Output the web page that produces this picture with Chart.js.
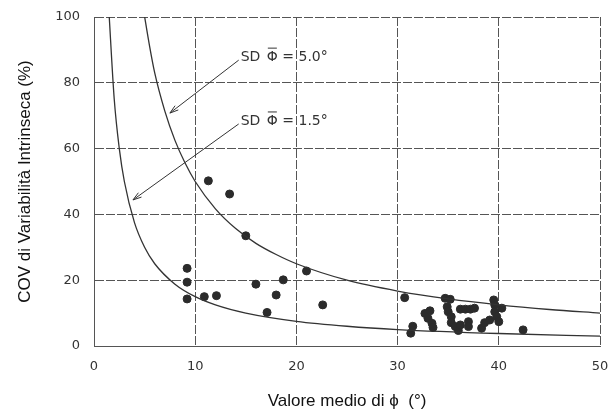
<!DOCTYPE html>
<html lang="it">
<head>
<meta charset="utf-8">
<title>COV di variabilità intrinseca</title>
<script src="https://cdn.jsdelivr.net/npm/chart.js@4/dist/chart.umd.min.js"></script>
<style>
  html, body { margin: 0; padding: 0; background: #fff; }
  #wrap { width: 612px; height: 416px; }
</style>
</head>
<body>
<div id="wrap"><canvas id="grafico" width="612" height="416"></canvas></div>
<script>
// --- Dati ---
const xTicks = [0, 10, 20, 30, 40, 50];
const yTicks = [0, 20, 40, 60, 80, 100];

// curva SD = 5.0°
const curva50X = [4.9, 5.5, 6, 7, 8, 9, 10, 12, 14, 16, 18, 20, 25, 30, 35, 40, 45, 50];
const curva50Y = [102, 91, 83, 71.4, 62.5, 55.6, 50, 41.7, 35.7, 31.2, 27.8, 25, 20, 16.7, 14.3, 12.5, 11.1, 10];

// curva SD = 1.5°
const curva15X = [1.45, 2, 2.5, 3, 4, 5, 6, 8, 10, 12, 15, 20, 25, 30, 40, 50];
const curva15Y = [103, 75, 60, 50, 37.5, 30, 25, 18.8, 15, 12.5, 10, 7.5, 6, 5, 3.8, 3];

// punti misurati
const puntiX = [9.2, 9.2, 9.2, 10.9, 12.1, 11.3, 13.4, 15.0, 16.0, 18.7, 18.0, 17.1, 21.0, 22.6,
  30.7, 31.5, 31.3, 32.7, 33.2, 33.0, 33.4, 33.5, 34.7, 35.2, 34.9, 35.0, 35.3, 35.3, 35.7, 36.0,
  36.2, 36.7, 37.2, 37.6, 37.0, 37.0, 36.2, 38.3, 38.6, 39.1, 39.5, 39.6, 39.6, 39.8, 40.3, 40.0, 42.4];
const puntiY = [23.6, 19.4, 14.3, 15.0, 15.3, 50.2, 46.2, 33.5, 18.8, 20.1, 15.5, 10.2, 22.8, 12.5,
  14.7, 6.0, 3.9, 9.9, 10.7, 8.4, 6.9, 5.6, 14.5, 14.2, 11.9, 10.4, 8.9, 7.1, 5.9, 4.7,
  11.2, 11.2, 11.2, 11.5, 7.4, 5.9, 6.4, 5.4, 7.1, 7.9, 14.0, 12.5, 10.4, 8.9, 11.5, 7.4, 4.9];

// etichette con freccia: [valore SD, xTesto, yTesto, xPunta, yPunta]
const etichette = [
  ["5.0", 14.3, 87.8, 7.5, 70.8],
  ["1.5", 14.3, 68.4, 3.85, 44.4],
];

const toXY = (xs, ys) => xs.map((x, i) => ({ x, y: ys[i] }));

const INK = "#333";

// frecce e testi "SD Φ̄ = ..." (la barra su Φ si disegna a mano)
const frecce = {
  id: "frecce",
  afterDatasetsDraw(chart) {
    const { ctx, scales } = chart;
    ctx.save();
    ctx.strokeStyle = INK;
    ctx.fillStyle = INK;
    ctx.lineWidth = 1;
    ctx.font = "14px 'DejaVu Sans'";
    ctx.textBaseline = "middle";
    etichette.forEach(([sd, xt, yt, xp, yp]) => {
      const x0 = scales.x.getPixelForValue(xt);
      const y0 = scales.y.getPixelForValue(yt);
      const x1 = scales.x.getPixelForValue(xp);
      const y1 = scales.y.getPixelForValue(yp);

      let cx = x0 + 2;
      ctx.fillText("SD ", cx, y0);
      cx += ctx.measureText("SD ").width + 2;
      const wPhi = ctx.measureText("\u03A6").width;
      ctx.fillText("\u03A6", cx, y0);
      ctx.beginPath();
      ctx.moveTo(cx + 1, y0 - 9);
      ctx.lineTo(cx + wPhi - 1, y0 - 9);
      ctx.stroke();
      cx += wPhi;
      ctx.fillText(" = " + sd + "\u00B0", cx, y0);

      const sx = x0, sy = y0 + 3;
      ctx.beginPath();
      ctx.moveTo(sx, sy);
      ctx.lineTo(x1, y1);
      ctx.stroke();
      const a = Math.atan2(y1 - sy, x1 - sx);
      ctx.beginPath();
      ctx.moveTo(x1, y1);
      ctx.lineTo(x1 - 9 * Math.cos(a - 0.3), y1 - 9 * Math.sin(a - 0.3));
      ctx.moveTo(x1, y1);
      ctx.lineTo(x1 - 9 * Math.cos(a + 0.3), y1 - 9 * Math.sin(a + 0.3));
      ctx.stroke();
    });
    ctx.restore();
  },
};

const linea = (dati) => ({
  type: "line",
  data: dati,
  borderColor: INK,
  borderWidth: 1.3,
  pointRadius: 0,
  fill: false,
  cubicInterpolationMode: "monotone",
});

const griglia = { color: "#555", lineWidth: 1, drawTicks: false };
const bordo = { color: "#555", dash: [9, 2] };

new Chart(document.getElementById("grafico"), {
  type: "scatter",
  data: {
    datasets: [
      linea(toXY(curva50X, curva50Y)),
      linea(toXY(curva15X, curva15Y)),
      {
        data: toXY(puntiX, puntiY),
        backgroundColor: "#2b2b2b",
        borderColor: "#2b2b2b",
        pointRadius: 4,
      },
    ],
  },
  options: {
    responsive: false,
    animation: false,
    layout: { padding: { top: 17, right: 12, left: 0, bottom: 0 } },
    plugins: { legend: { display: false }, tooltip: { enabled: false } },
    scales: {
      x: {
        type: "linear",
        min: 0,
        max: 50,
        afterBuildTicks: (s) => { s.ticks = xTicks.map((v) => ({ value: v })); },
        afterFit: (s) => { s.height = 70; s.paddingLeft = 0; s.paddingRight = 0; },
        grid: griglia,
        border: bordo,
        ticks: { color: INK, padding: 13, font: { family: "DejaVu Sans", size: 13 } },
        title: {
          display: true,
          text: "Valore medio di \u03D5  (\u00B0)",
          color: "#111",
          padding: { top: 10 },
          font: { family: "Liberation Sans", size: 17 },
        },
      },
      y: {
        type: "linear",
        min: 0,
        max: 100,
        afterBuildTicks: (s) => { s.ticks = yTicks.map((v) => ({ value: v })); },
        afterFit: (s) => { s.width = 94; s.paddingTop = 0; s.paddingBottom = 0; },
        grid: griglia,
        border: bordo,
        ticks: { color: INK, padding: 14, font: { family: "DejaVu Sans", size: 13 } },
        title: {
          display: true,
          text: "COV di Variabilità Intrinseca (%)",
          color: "#111",
          padding: { top: 15, bottom: 0 },
          font: { family: "Liberation Sans", size: 17 },
        },
      },
    },
  },
  plugins: [frecce],
});
</script>
</body>
</html>
